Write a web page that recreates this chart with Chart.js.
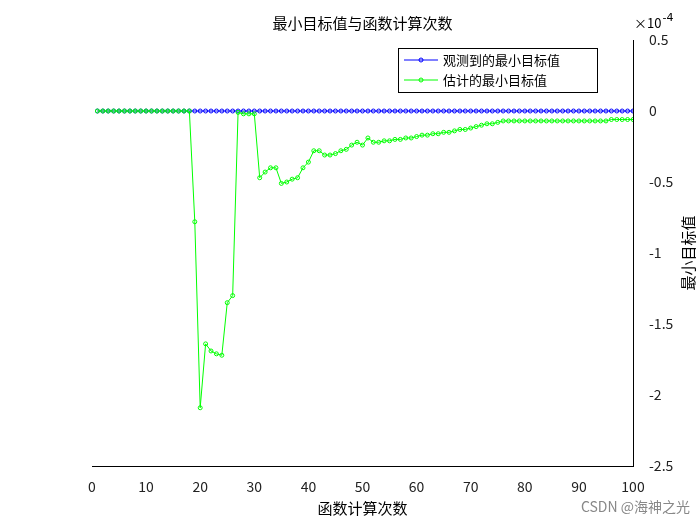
<!DOCTYPE html>
<html><head><meta charset="utf-8">
<script src="https://cdn.jsdelivr.net/npm/chart.js@4"></script>
<style>body{margin:0;background:#fff}</style>
</head><body><canvas id="c" width="700" height="525"></canvas>
<script>
const evals = Array.from({length: 100}, (_, i) => i + 1);
const observed = evals.map(() => 0);
const estimated = [
  0,0,0,0,0,0,0,0,0,0, 0,0,0,0,0,0,0,0,-0.78,-2.09,
  -1.64,-1.69,-1.71,-1.72,-1.35,-1.30,-0.01,-0.02,-0.02,-0.02,
  -0.47,-0.43,-0.40,-0.40,-0.51,-0.50,-0.48,-0.47,-0.40,-0.36,
  -0.28,-0.28,-0.31,-0.31,-0.30,-0.28,-0.27,-0.24,-0.22,-0.24,
  -0.19,-0.22,-0.22,-0.21,-0.21,-0.20,-0.20,-0.19,-0.19,-0.18,
  -0.17,-0.17,-0.16,-0.16,-0.15,-0.15,-0.14,-0.13,-0.13,-0.12,
  -0.11,-0.10,-0.09,-0.09,-0.08,-0.07,-0.07,-0.07,-0.07,-0.07,
  -0.07,-0.07,-0.07,-0.07,-0.07,-0.07,-0.07,-0.07,-0.07,-0.07,
  -0.07,-0.07,-0.07,-0.07,-0.07,-0.06,-0.06,-0.06,-0.06,-0.06
];
const yTicks = [0.5, 0, -0.5, -1, -1.5, -2, -2.5];
const xTicks = [0,10,20,30,40,50,60,70,80,90,100];
const font = "'Noto Sans CJK SC', 'Noto Sans', sans-serif";

const extras = {
  id: "extras",
  afterDraw(chart) {
    const c = chart.ctx, a = chart.chartArea;
    c.save();
    c.fillStyle = "#000";
    c.font = "15px " + font;
    c.textAlign = "center";
    c.fillText("最小目标值与函数计算次数", (a.left + a.right) / 2, 29);
    c.fillText("函数计算次数", (a.left + a.right) / 2, 514);
    c.font = "13px " + font;
    c.textAlign = "left";
    c.fillText("×10", a.right + 1, 28);
    const w = c.measureText("×10").width;
    c.font = "11px 'DejaVu Sans'";
    c.fillText("-4", a.right + 2 + w, 21);
    c.save();
    c.translate(694, 253);
    c.rotate(-Math.PI / 2);
    c.font = "15px " + font;
    c.textAlign = "center";
    c.fillText("最小目标值", 0, 0);
    c.restore();
    // legend
    const lx = 398, ly = 48, lw = 199, lh = 44;
    c.fillStyle = "#fff";
    c.fillRect(lx, ly, lw, lh);
    c.strokeStyle = "#000";
    c.lineWidth = 1;
    c.strokeRect(lx + 0.5, ly + 0.5, lw, lh);
    const items = [["观测到的最小目标值", "#0000ff"], ["估计的最小目标值", "#00ff00"]];
    items.forEach(([t, col], i) => {
      const yy = ly + 12 + i * 20;
      c.strokeStyle = col;
      c.beginPath(); c.moveTo(lx + 6, yy); c.lineTo(lx + 40, yy); c.stroke();
      c.beginPath(); c.arc(lx + 23, yy, 2, 0, Math.PI * 2); c.stroke();
      c.fillStyle = "#000";
      c.font = "13px " + font;
      c.textAlign = "left";
      c.textBaseline = "middle";
      c.fillText(t, lx + 45, yy);
    });
    c.textBaseline = "alphabetic";
    c.fillStyle = "#888";
    c.font = "14px " + font;
    c.textAlign = "right";
    c.fillText("CSDN @海神之光", 690, 512);
    c.restore();
  }
};

new Chart(document.getElementById("c"), {
  type: "line",
  data: {
    labels: evals,
    datasets: [
      { label: "观测到的最小目标值", data: observed, borderColor: "#0000ff", borderWidth: 1,
        pointRadius: 2, pointBorderWidth: 1, pointBackgroundColor: "transparent", pointBorderColor: "#0000ff", order: 2 },
      { label: "估计的最小目标值", data: estimated, borderColor: "#00ff00", borderWidth: 1,
        pointRadius: 2, pointBorderWidth: 1, pointBackgroundColor: "transparent", pointBorderColor: "#00ff00", order: 1 }
    ]
  },
  options: {
    responsive: false,
    animation: false,
    devicePixelRatio: 1,
    layout: { padding: { left: 92, top: 40, right: 0, bottom: 0 } },
    scales: {
      x: {
        type: "linear", min: 0, max: 100,
        afterBuildTicks: s => { s.ticks = xTicks.map(v => ({ value: v })); },
        grid: { display: false },
        border: { color: "#000" },
        ticks: { color: "#222", font: { size: 14, family: font }, padding: 4,
                 autoSkip: false, maxRotation: 0, callback: v => String(v) },
        afterFit: s => { s.height = 59; }
      },
      y: {
        position: "right", min: -2.5, max: 0.5,
        afterBuildTicks: s => { s.ticks = yTicks.map(v => ({ value: v })); },
        grid: { display: false },
        border: { color: "#000" },
        ticks: { color: "#222", font: { size: 14, family: font }, padding: 8,
                 autoSkip: false, callback: v => String(v) },
        afterFit: s => { s.width = 67; }
      }
    },
    plugins: { legend: { display: false }, tooltip: { enabled: false } }
  },
  plugins: [extras]
});
</script>
</body></html>
